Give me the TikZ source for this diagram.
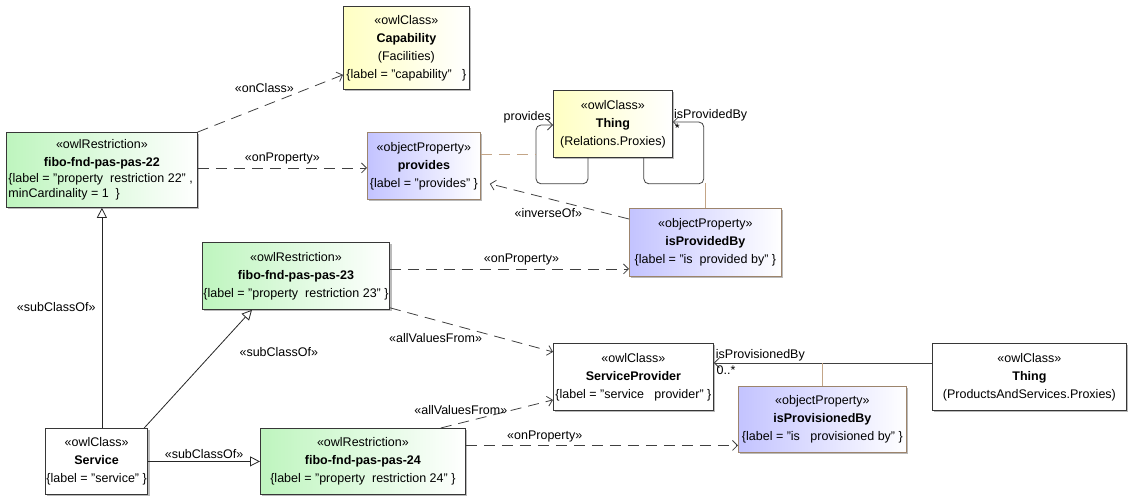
\documentclass[tikz,border=0pt]{standalone}
\usepackage{fontspec}
\setmainfont{Liberation Sans}
\usetikzlibrary{positioning,arrows.meta,calc,shadows}

\definecolor{yellowfill}{RGB}{255,255,195}
\definecolor{greenfill}{RGB}{190,245,190}
\definecolor{purplefill}{RGB}{195,195,255}
\definecolor{tanline}{RGB}{195,165,135}
\definecolor{boxline}{RGB}{55,55,55}

\tikzset{
  umlbox/.style={draw=boxline, thick, rectangle, align=center, inner sep=1pt,
    anchor=north west, font=\fontsize{12.5}{18}\selectfont,
    drop shadow={shadow xshift=2pt, shadow yshift=-2pt, fill=black!45, opacity=0.6}},
  classbox/.style={umlbox, fill=white},
  yellowbox/.style={umlbox, left color=yellowfill, right color=white},
  greenbox/.style={umlbox, left color=greenfill, right color=white},
  propbox/.style={umlbox, draw=tanline!80!black, left color=purplefill, right color=white},
  lbl/.style={font=\fontsize{12.5}{14}\selectfont, inner sep=1pt},
  dep/.style={draw=black!75, thick, dash pattern=on 11pt off 7pt,
    -{Straight Barb[length=5pt,width=10pt]}},
  gen/.style={draw=black!85, thick, -{Triangle[open,length=10pt,width=10pt]}},
  assoc/.style={draw=black!75, thick, rounded corners=5pt,
    -{Straight Barb[length=5pt,width=10pt]}},
  tanlink/.style={draw=tanline, thick},
}

\begin{document}
\begin{tikzpicture}[x=1pt,y=-1pt]
\useasboundingbox (0,0) rectangle (1128,501);

% classes
\node[yellowbox, minimum width=126pt, minimum height=83pt] (cap) at (343,6)
  {«owlClass»\\\textbf{Capability}\\(Facilities)\\\{label = "capability"\ \ \ \}};
\node[yellowbox, minimum width=119pt, minimum height=67pt] (thingR) at (553,90)
  {«owlClass»\\\textbf{Thing}\\(Relations.Proxies)};
\node[classbox, minimum width=160pt, minimum height=67pt] (sp) at (553,343)
  {«owlClass»\\\textbf{ServiceProvider}\\\{label = "service\ \ \ provider" \}};
\node[classbox, minimum width=194pt, minimum height=67pt] (thingPS) at (932,343)
  {«owlClass»\\\textbf{Thing}\\(ProductsAndServices.Proxies)};
\node[classbox, minimum width=102pt, minimum height=66pt] (svc) at (45,428)
  {«owlClass»\\\textbf{Service}\\\{label = "service" \}};

% restrictions
\node[greenbox, minimum width=191pt, minimum height=75pt] (f22) at (6,132)
  {«owlRestriction»\\\textbf{fibo-fnd-pas-pas-22}\\[-2pt]
   \makebox[187pt][l]{\{label = "property\ \ restriction 22" ,}\\[-3pt]
   \makebox[187pt][l]{minCardinality = 1\ \ \}}};
\node[greenbox, minimum width=178pt, minimum height=67pt] (f23) at (202,242)
  {«owlRestriction»\\\textbf{fibo-fnd-pas-pas-23}\\\{label = "property\ \ restriction 23" \}};
\node[greenbox, minimum width=205pt, minimum height=66pt] (f24) at (260,428)
  {«owlRestriction»\\\textbf{fibo-fnd-pas-pas-24}\\\{label = "property\ \ restriction 24" \}};

% object properties
\node[propbox, minimum width=113pt, minimum height=67pt] (prov) at (367,132)
  {«objectProperty»\\\textbf{provides}\\\{label = "provides" \}};
\node[propbox, minimum width=152pt, minimum height=68pt] (ipb) at (629,208)
  {«objectProperty»\\\textbf{isProvidedBy}\\\{label = "is\ \ provided by" \}};
\node[propbox, minimum width=168pt, minimum height=66pt] (ipvb) at (738,386)
  {«objectProperty»\\\textbf{isProvisionedBy}\\\{label = "is\ \ \ provisioned by" \}};

% connector end points
\coordinate (f22out) at ($(f22.east)+(0,-2)$);
\coordinate (f23out) at ($(f23.east)+(0,-7)$);
\coordinate (f24out) at ($(f24.east)+(0,-16)$);
\coordinate (psout) at ($(thingPS.west)+(0,-14)$);
\coordinate (provHook) at ($(thingR.south west)+(-17,-3)$);

% restriction links
\draw[dep] (f22.north east) -- node[lbl, pos=0.5, above=9pt, xshift=-6pt]{«onClass»}
  ($(cap.south west)+(0,-15)$);
\draw[dep] (f22out) -- node[lbl, above=2pt]{«onProperty»} (f22out -| prov.west);
\draw[dep] (f23out) -- node[lbl, pos=0.55, above=2pt]{«onProperty»} (f23out -| ipb.west);
\draw[dep] ($(f23.south east)+(0,-2)$) -- node[lbl, pos=0.28, below=12pt]{«allValuesFrom»}
  ($(sp.west)+(0,-25)$);
\draw[dep] ($(f24.north east)+(-25,0)$) -- node[lbl, pos=0.25, above=5pt, xshift=-8pt]{«allValuesFrom»}
  ($(sp.west)+(0,23)$);
\draw[dep] (f24out) -- node[lbl, pos=0.29, above=2pt]{«onProperty»} (f24out -| ipvb.west);
\draw[dep] ($(ipb.north west)+(0,11)$) -- node[lbl, pos=0.58, below=8pt]{«inverseOf»}
  ($(prov.south east)+(9,-16)$);

% associations
\draw[assoc] ($(thingR.south west)+(35,0)$) |- ($(thingR.south west)+(-17,26)$)
  |- ($(thingR.north west)+(0,35)$) node[lbl, above left=1pt]{provides};
\draw[assoc] ($(thingR.south east)+(-29,0)$) |- ($(thingR.south east)+(31,26)$)
  |- ($(thingR.north east)+(0,32)$) node[lbl, above right=0pt]{isProvidedBy}
  node[lbl, below right=1pt]{*};
\draw[assoc, rounded corners=0pt] (psout) -- (psout -| sp.east)
  node[lbl, above right=1pt]{isProvisionedBy} node[lbl, below right=2pt]{0..*};
\draw[tanlink, dash pattern=on 11pt off 7pt] (provHook -| prov.east) -- (provHook);
\draw[tanlink] (ipb.north) -- ++(0,-25);
\draw[tanlink] (ipvb.north |- psout) -- (ipvb.north);

% generalisations
\draw[gen] (svc.north -| f22.south) -- node[lbl, pos=0.55, left=5pt]{«subClassOf»} (f22.south);
\draw[gen] ($(svc.north east)+(-4,0)$) -- node[lbl, pos=0.64, right=25pt]{«subClassOf»}
  ($(f23.south west)+(50,0)$);
\draw[gen] (svc.east) -- node[lbl, above=1pt]{«subClassOf»} (f24.west);
\end{tikzpicture}
\end{document}
